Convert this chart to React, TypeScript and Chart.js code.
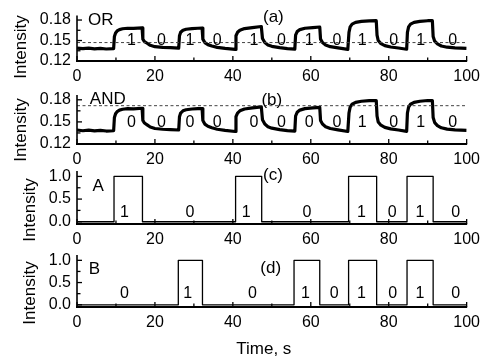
import React, { useEffect, useRef } from 'react';
import { Chart, registerables } from 'chart.js';

Chart.register(...registerables);

// ---------- data ----------
const responseTime = [
  0, 1.5, 3, 4.5, 6, 7.5, 9.4, 9.6, 9.9, 10.3, 10.9, 11.7, 13, 14.5, 16.7,
  16.9, 17.3, 18, 18.8, 20, 22, 24, 26.1, 26.3, 26.6, 27.2, 28, 29.5, 31, 32.1,
  32.3, 32.8, 33.6, 34.6, 36, 38, 40.6, 40.8, 41.2, 41.8, 43, 45, 47.3,
  47.6, 48.2, 49, 50, 52, 54, 55.9, 56.1, 56.5, 57.2, 58.5, 60.5, 62.3,
  62.5, 63, 63.8, 65, 67, 69.5, 69.8, 70.1, 70.6, 71.5, 73, 75, 76.8,
  77, 77.3, 78, 79, 80.5, 82.5, 84.6, 84.8, 85.1, 85.6, 86.5, 88, 90, 91.2,
  91.4, 91.8, 92.5, 93.5, 95, 97, 100,
];
const responseIntensity = [
  0.139, 0.138, 0.1388, 0.1378, 0.1385, 0.1376, 0.138, 0.156, 0.161, 0.164, 0.166, 0.1672, 0.168, 0.1678, 0.1685,
  0.152, 0.1485, 0.146, 0.143, 0.141, 0.14, 0.1395, 0.139, 0.157, 0.162, 0.165, 0.1665, 0.1675, 0.168, 0.1682,
  0.152, 0.147, 0.144, 0.142, 0.14, 0.1385, 0.137, 0.157, 0.162, 0.165, 0.1675, 0.169, 0.1705,
  0.153, 0.147, 0.1435, 0.1415, 0.1395, 0.1382, 0.1375, 0.158, 0.163, 0.166, 0.168, 0.169, 0.1698,
  0.152, 0.147, 0.1435, 0.141, 0.1392, 0.137, 0.162, 0.17, 0.174, 0.1765, 0.178, 0.1788, 0.179,
  0.158, 0.15, 0.1455, 0.1425, 0.1405, 0.139, 0.1372, 0.162, 0.17, 0.174, 0.1765, 0.178, 0.179, 0.179,
  0.156, 0.149, 0.145, 0.142, 0.1402, 0.1392, 0.1385,
];

const orThreshold = 0.147;
const andThreshold = 0.172;

const inputATime = [0, 9.5, 16.8, 40.7, 47.4, 69.7, 76.9, 84.7, 91.4, 100];
const inputAValue = [0, 1, 0, 1, 0, 1, 0, 1, 0, 0];
const inputBTime = [0, 26.0, 32.2, 55.7, 62.3, 69.7, 76.9, 84.7, 91.4, 100];
const inputBValue = [0, 1, 0, 1, 0, 1, 0, 1, 0, 0];

const outputLabelTimes = [14.0, 21.7, 29.0, 36.0, 45.4, 52.5, 59.6, 66.7, 73.2, 81.3, 88.2, 96.4];
const orLabels = ['1', '0', '1', '0', '1', '0', '1', '0', '1', '0', '1', '0'];
const andLabels = ['0', '0', '0', '0', '0', '0', '0', '0', '1', '0', '1', '0'];
const inputALabelTimes = [12.2, 29, 43.4, 59, 73, 80.9, 88, 97.2];
const inputALabels = ['1', '0', '1', '0', '1', '0', '1', '0'];
const inputBLabelTimes = [12.2, 28.4, 45, 58.6, 66, 73, 81, 88, 97.2];
const inputBLabels = ['0', '1', '0', '1', '0', '1', '0', '1', '0'];

const xTickValues = [0, 20, 40, 60, 80, 100];
const xMinorTickValues = [10, 30, 50, 70, 90];
const outputTickValues = [0.12, 0.15, 0.18];
const outputMinorTickValues = [0.135, 0.165];
const inputTickValues = [0, 0.5, 1];
const inputMinorTickValues = [0.25, 0.75];

// ---------- rendering ----------
const FONT = '"Liberation Sans", Arial, Helvetica, sans-serif';
const W = 486;
const H = 362;

const panelDecor = {
  id: 'panelDecor',
  afterDatasetsDraw(chart: any, _args: any, opts: any) {
    const { ctx, chartArea: a } = chart;
    const x = chart.scales.x;
    const y = chart.scales.y;
    ctx.save();
    ctx.strokeStyle = '#000';
    ctx.fillStyle = '#000';
    ctx.lineCap = 'butt';
    // axes
    ctx.lineWidth = 2.2;
    ctx.beginPath();
    ctx.moveTo(a.left - 1, a.bottom);
    ctx.lineTo(a.right + 0.5, a.bottom);
    ctx.stroke();
    ctx.lineWidth = 1.6;
    ctx.beginPath();
    ctx.moveTo(a.left, a.top);
    ctx.lineTo(a.left, a.bottom);
    ctx.stroke();
    // x ticks (inward)
    ctx.lineWidth = 1.3;
    const vline = (px: number, len: number) => {
      ctx.beginPath();
      ctx.moveTo(px, a.bottom);
      ctx.lineTo(px, a.bottom - len);
      ctx.stroke();
    };
    xTickValues.forEach((v) => vline(x.getPixelForValue(v), 5));
    xMinorTickValues.forEach((v) => vline(x.getPixelForValue(v), 3.5));
    const hline = (py: number, len: number) => {
      ctx.beginPath();
      ctx.moveTo(a.left, py);
      ctx.lineTo(a.left + len, py);
      ctx.stroke();
    };
    (opts.yMajor || []).forEach((v: number) => hline(y.getPixelForValue(v), 5));
    (opts.yMinor || []).forEach((v: number) => hline(y.getPixelForValue(v), 3.5));

    // digit labels
    ctx.textBaseline = 'middle';
    ctx.textAlign = 'center';
    ctx.font = `16px ${FONT}`;
    (opts.labelTimes || []).forEach((t: number, i: number) => {
      ctx.fillText(opts.labels[i], x.getPixelForValue(t), y.getPixelForValue(opts.labelValue));
    });
    ctx.font = `17px ${FONT}`;
    if (opts.name) {
      ctx.textAlign = 'left';
      ctx.fillText(opts.name.text, x.getPixelForValue(opts.name.t), y.getPixelForValue(opts.name.v));
    }
    if (opts.tag) {
      ctx.textAlign = 'center';
      ctx.fillText(opts.tag.text, x.getPixelForValue(opts.tag.t), y.getPixelForValue(opts.tag.v));
    }
    if (opts.yTitle) {
      ctx.save();
      ctx.translate(opts.yTitle.cx, a.bottom - 14);
      ctx.rotate(-Math.PI / 2);
      ctx.textAlign = 'center';
      ctx.fillText(opts.yTitle.text, 0, 0);
      ctx.restore();
    }
    if (opts.xTitle) {
      ctx.textAlign = 'center';
      ctx.fillText(opts.xTitle, (a.left + a.right) / 2 - 8, a.bottom + 42);
    }
    ctx.restore();
  },
};

type PanelSpec = {
  top: number;
  bottom: number;
  yMin: number;
  yMax: number;
  yTicks: number[];
  yMinor: number[];
  digits: number;
  datasets: any[];
  decor: any;
};

function makeChart(canvas: HTMLCanvasElement, p: PanelSpec) {
  const xAxisHeight = 20;
  return new Chart(canvas, {
    type: 'line',
    data: { datasets: p.datasets },
    plugins: [panelDecor],
    options: {
      responsive: false,
      animation: false,
      events: [],
      layout: {
        padding: { left: 0, right: 17, top: p.top, bottom: H - p.bottom - xAxisHeight },
      },
      plugins: {
        legend: { display: false },
        tooltip: { enabled: false },
        panelDecor: p.decor,
      } as any,
      elements: { point: { radius: 0 } },
      scales: {
        x: {
          type: 'linear',
          min: 0,
          max: 100,
          grid: { display: false, drawTicks: false },
          border: { display: false },
          afterBuildTicks: (s: any) => {
            s.ticks = xTickValues.map((v) => ({ value: v }));
          },
          afterFit: (s: any) => {
            s.height = xAxisHeight;
          },
          ticks: {
            autoSkip: false,
            maxRotation: 0,
            padding: 6,
            color: '#000',
            font: { family: FONT, size: 16 },
            callback: (v: any) => String(v),
          },
        },
        y: {
          type: 'linear',
          min: p.yMin,
          max: p.yMax,
          grid: { display: false, drawTicks: false },
          border: { display: false },
          afterBuildTicks: (s: any) => {
            s.ticks = p.yTicks.map((v) => ({ value: v }));
          },
          afterFit: (s: any) => {
            s.width = 77;
          },
          ticks: {
            autoSkip: false,
            padding: 6,
            color: '#000',
            font: { family: FONT, size: 16 },
            callback: (v: any) => Number(v).toFixed(p.digits),
          },
        },
      },
    } as any,
  });
}

function traceDataset(times: number[], values: number[], width: number, stepped: any) {
  return {
    data: times.map((t, i) => ({ x: t, y: values[i] })),
    borderColor: '#000',
    borderWidth: width,
    pointRadius: 0,
    tension: 0,
    stepped,
    borderJoinStyle: 'round',
    fill: false,
  };
}

function thresholdDataset(v: number) {
  return {
    data: [{ x: 0, y: v }, { x: 100, y: v }],
    borderColor: '#444',
    borderWidth: 1,
    borderDash: [3, 2.5],
    pointRadius: 0,
    fill: false,
  };
}

export default function App() {
  const refA = useRef<HTMLCanvasElement>(null);
  const refB = useRef<HTMLCanvasElement>(null);
  const refC = useRef<HTMLCanvasElement>(null);
  const refD = useRef<HTMLCanvasElement>(null);

  useEffect(() => {
    const charts: Chart[] = [];
    charts.push(
      makeChart(refA.current!, {
        top: 13,
        bottom: 61,
        yMin: 0.12,
        yMax: 0.1865,
        yTicks: outputTickValues,
        yMinor: outputMinorTickValues,
        digits: 2,
        datasets: [thresholdDataset(orThreshold), traceDataset(responseTime, responseIntensity, 3.2, false)],
        decor: {
          yMajor: outputTickValues,
          yMinor: outputMinorTickValues,
          labelTimes: outputLabelTimes,
          labels: orLabels,
          labelValue: 0.1503,
          name: { text: 'OR', t: 2.8, v: 0.1793 },
          tag: { text: '(a)', t: 50.4, v: 0.1838 },
          yTitle: { text: 'Intensity', cx: 21 },
        },
      })
    );
    charts.push(
      makeChart(refB.current!, {
        top: 95,
        bottom: 144,
        yMin: 0.12,
        yMax: 0.1865,
        yTicks: outputTickValues,
        yMinor: outputMinorTickValues,
        digits: 2,
        datasets: [thresholdDataset(andThreshold), traceDataset(responseTime, responseIntensity, 3.2, false)],
        decor: {
          yMajor: outputTickValues,
          yMinor: outputMinorTickValues,
          labelTimes: outputLabelTimes,
          labels: andLabels,
          labelValue: 0.149,
          name: { text: 'AND', t: 3.3, v: 0.1812 },
          tag: { text: '(b)', t: 50.0, v: 0.1799 },
          yTitle: { text: 'Intensity', cx: 21 },
        },
      })
    );
    charts.push(
      makeChart(refC.current!, {
        top: 171,
        bottom: 224,
        yMin: -0.05,
        yMax: 1.12,
        yTicks: inputTickValues,
        yMinor: inputMinorTickValues,
        digits: 1,
        datasets: [traceDataset(inputATime, inputAValue, 1.3, 'before')],
        decor: {
          yMajor: inputTickValues,
          yMinor: inputMinorTickValues,
          labelTimes: inputALabelTimes,
          labels: inputALabels,
          labelValue: 0.21,
          name: { text: 'A', t: 4.0, v: 0.79 },
          tag: { text: '(c)', t: 50.3, v: 1.03 },
          yTitle: { text: 'Intensity', cx: 30 },
        },
      })
    );
    charts.push(
      makeChart(refD.current!, {
        top: 255,
        bottom: 307,
        yMin: -0.05,
        yMax: 1.12,
        yTicks: inputTickValues,
        yMinor: inputMinorTickValues,
        digits: 1,
        datasets: [traceDataset(inputBTime, inputBValue, 1.3, 'before')],
        decor: {
          yMajor: inputTickValues,
          yMinor: inputMinorTickValues,
          labelTimes: inputBLabelTimes,
          labels: inputBLabels,
          labelValue: 0.26,
          name: { text: 'B', t: 3.0, v: 0.807 },
          tag: { text: '(d)', t: 49.7, v: 0.83 },
          yTitle: { text: 'Intensity', cx: 30 },
          xTitle: 'Time, s',
        },
      })
    );
    return () => charts.forEach((c) => c.destroy());
  }, []);

  const cstyle: React.CSSProperties = { position: 'absolute', left: 0, top: 0, width: W, height: H };
  return (
    <div style={{ position: 'fixed', left: 0, top: 0, width: W, height: H, background: '#fff' }}>
      <canvas ref={refA} width={W} height={H} style={cstyle} />
      <canvas ref={refB} width={W} height={H} style={cstyle} />
      <canvas ref={refC} width={W} height={H} style={cstyle} />
      <canvas ref={refD} width={W} height={H} style={cstyle} />
    </div>
  );
}
